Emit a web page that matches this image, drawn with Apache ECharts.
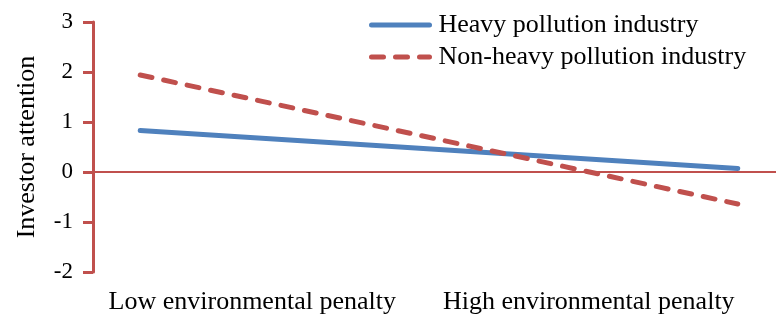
<!DOCTYPE html>
<html>
<head>
<meta charset="utf-8">
<script src="https://cdn.jsdelivr.net/npm/echarts@6/dist/echarts.min.js"></script>
<style>
  html, body { margin: 0; padding: 0; background: #fff; }
  #chart { width: 776px; height: 318px; }
</style>
</head>
<body>
<div id="chart"></div>
<script>
// categories on the x axis
var categories = ['Low environmental penalty', 'High environmental penalty'];
// series values
var heavy = [0.83, 0.07];
var nonHeavy = [1.94, -0.64];
var seriesNames = ['Heavy pollution industry', 'Non-heavy pollution industry'];
// y axis ticks
var yTicks = [-2, -1, 0, 1, 2, 3];

var myChart = echarts.init(document.getElementById('chart'));
var font = '"Liberation Serif", "Times New Roman", serif';
var red = '#c0504d';
var blue = '#4f81bd';

function toPairs(arr) {
    return arr.map(function (v, i) { return [i, v]; });
}

var option = {
    animation: false,
    textStyle: { fontFamily: font },
    legend: {
        orient: 'vertical',
        left: 364,
        top: 7,
        itemWidth: 58,
        itemHeight: 20,
        itemGap: 6,
        itemStyle: { opacity: 0 },
        lineStyle: { width: 'inherit' },
        textStyle: { fontFamily: font, fontSize: 26, color: '#000', padding: [0, 0, 0, 4] },
        data: seriesNames
    },
    grid: [
        { left: 93, right: 0, top: 22, bottom: 46 },
        // only used to place the category labels
        { left: 84, right: 19, top: 22, bottom: 46 }
    ],
    xAxis: [
        {
            type: 'value', gridIndex: 0,
            min: -0.079, max: 1.064,
            show: false
        },
        {
            type: 'category', gridIndex: 1,
            data: categories,
            axisLine: { show: false },
            axisTick: { show: false },
            axisLabel: { fontFamily: font, fontSize: 26, color: '#000', margin: 17, interval: 0 }
        }
    ],
    yAxis: [
        {
            type: 'value', gridIndex: 0,
            min: yTicks[0], max: yTicks[yTicks.length - 1], interval: 1,
            name: 'Investor attention',
            nameLocation: 'middle',
            nameGap: 53,
            nameTextStyle: { fontFamily: font, fontSize: 26, color: '#000' },
            axisLine: { show: true, onZero: false, lineStyle: { color: red, width: 3 } },
            axisTick: { show: true, length: 10, lineStyle: { color: red, width: 3 } },
            axisLabel: { fontFamily: font, fontSize: 23, color: '#000', margin: 20 },
            splitLine: { show: false }
        },
        { type: 'value', gridIndex: 1, show: false }
    ],
    series: [
        {
            name: seriesNames[0],
            type: 'line',
            xAxisIndex: 0, yAxisIndex: 0,
            symbol: 'none',
            lineStyle: { color: blue, width: 5, cap: 'round' },
            itemStyle: { color: blue },
            data: toPairs(heavy),
            markLine: {
                silent: true,
                symbol: 'none',
                label: { show: false },
                lineStyle: { color: red, width: 2, type: 'solid' },
                data: [{ yAxis: 0 }]
            },
            z: 3
        },
        {
            name: seriesNames[1],
            type: 'line',
            xAxisIndex: 0, yAxisIndex: 0,
            symbol: 'none',
            lineStyle: { color: red, width: 5, type: [12, 12], cap: 'round' },
            itemStyle: { color: red },
            data: toPairs(nonHeavy),
            z: 4
        }
    ]
};

myChart.setOption(option);
</script>
</body>
</html>
